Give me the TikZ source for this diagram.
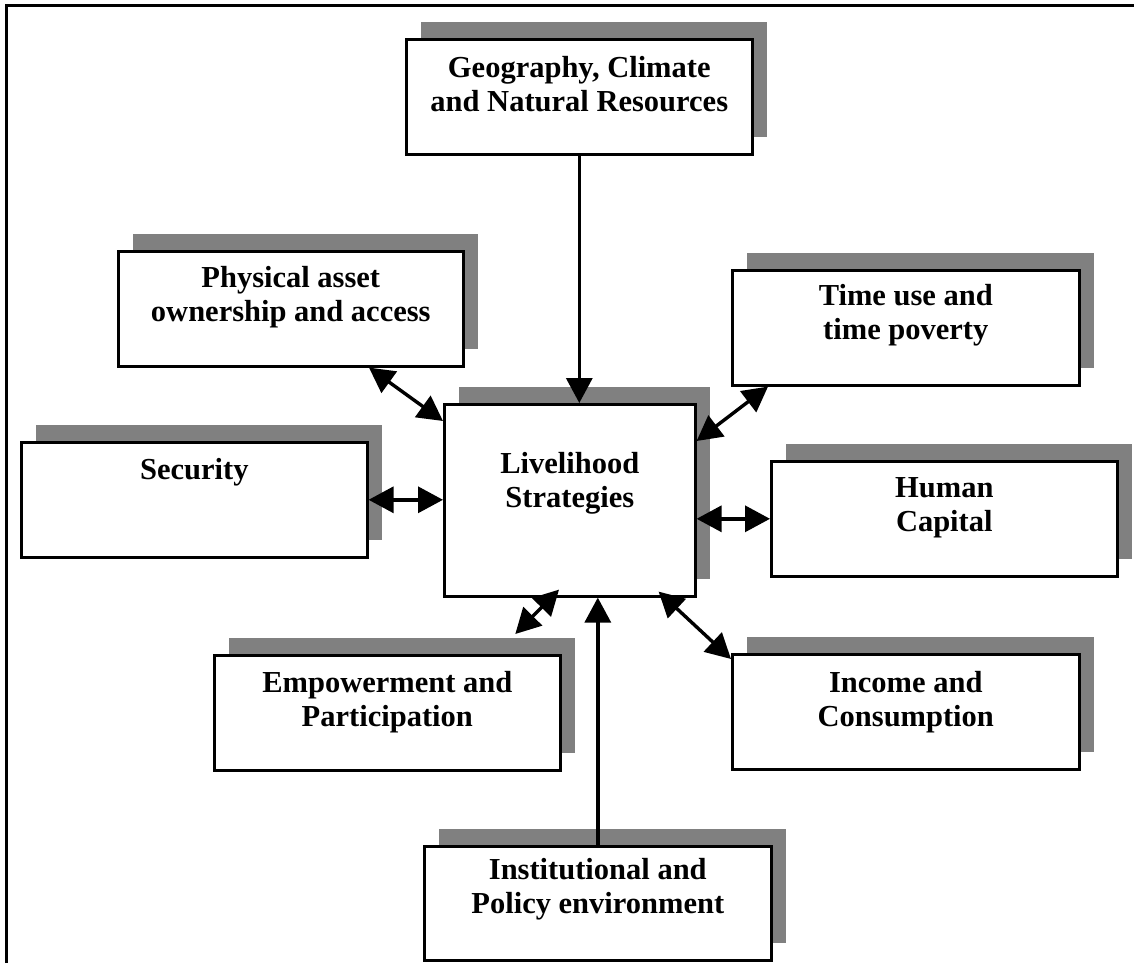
\documentclass[tikz,border=0pt]{standalone}
\usepackage{fontspec}
\setmainfont{Liberation Serif}
\usetikzlibrary{arrows.meta,shadows}
\definecolor{shadowgray}{HTML}{808080}
\newcommand{\bxfont}{\fontsize{30.5}{34.5}\selectfont\bfseries}
\tikzset{
  box/.style={draw=black, line width=2.6pt, fill=white, anchor=north west, inner sep=0pt,
    drop shadow={shadow xshift=15pt, shadow yshift=17pt, fill=shadowgray, opacity=1, draw=none}},
  txt/.style={anchor=north, inner sep=0pt, align=center, font=\bxfont},
  link/.style={line width=3.4pt, -{Triangle[length=25pt,width=26pt]}},
  dlink/.style={line width=3.4pt, {Triangle[length=25pt,width=26pt]}-{Triangle[length=25pt,width=26pt]}},
}
\begin{document}
\begin{tikzpicture}[x=1pt,y=-1pt]
\useasboundingbox (0,0) rectangle (1134,963);
% frame
\coordinate (fbl) at (6,963);
\coordinate (ftl) at (6,6);
\coordinate (ftr) at (1134,6);
\draw[line width=3pt] (fbl) -- (ftl) -- (ftr);
% boxes
\node[box, minimum width=346pt, minimum height=115pt] (geo) at (405,38) {};
\node[txt] (geot) at ([yshift=-18pt]geo.north) {Geography, Climate\\and Natural Resources};
\node[box, minimum width=345pt, minimum height=115pt] (phys) at (117,250) {};
\node[txt] (physt) at ([yshift=-16pt]phys.north) {Physical asset\\ownership and access};
\node[box, minimum width=347pt, minimum height=115pt] (time) at (731,269) {};
\node[txt] (timet) at ([yshift=-15pt]time.north) {Time use and\\time poverty};
\node[box, minimum width=346pt, minimum height=115pt] (sec) at (20,441) {};
\node[txt] (sect) at ([yshift=-17pt]sec.north) {Security};
\node[box, minimum width=346pt, minimum height=115pt] (hum) at (770,460) {};
\node[txt] (humt) at ([yshift=-17pt]hum.north) {Human\\Capital};
\node[box, minimum width=346pt, minimum height=115pt] (emp) at (213,654) {};
\node[txt] (empt) at ([yshift=-17pt]emp.north) {Empowerment and\\Participation};
\node[box, minimum width=347pt, minimum height=115pt] (inc) at (731,653) {};
\node[txt] (inct) at ([yshift=-18pt]inc.north) {Income and\\Consumption};
\node[box, minimum width=347pt, minimum height=114pt] (inst) at (423,845) {};
\node[txt] (instt) at ([yshift=-13pt]inst.north) {Institutional and\\Policy environment};
\node[box, minimum width=251pt, minimum height=192pt] (live) at (443,403) {};
\node[txt] (livet) at ([yshift=-49pt]live.north) {Livelihood\\Strategies};
% connectors
\draw[link] (geo.south) -- (geo.south |- live.north);
\draw[link] (inst.north) -- (inst.north |- live.south);
\draw[dlink] ([xshift=252pt]phys.south west) -- ([yshift=-18pt]live.north west);
\draw[dlink] (sec.east) -- (sec.east -| live.west);
\draw[dlink] ([xshift=37pt]time.south west) -- ([yshift=-38pt]live.north east);
\draw[dlink] (hum.west) -- (hum.west -| live.east);
\draw[dlink] ([xshift=-38pt,yshift=6pt]live.south east) -- ([yshift=-6pt]inc.north west);
\coordinate (empend) at ([xshift=128pt,yshift=20pt]emp.north);
\draw[dlink] ([xshift=116pt,yshift=8pt]live.south west) -- (empend);
\end{tikzpicture}
\end{document}
